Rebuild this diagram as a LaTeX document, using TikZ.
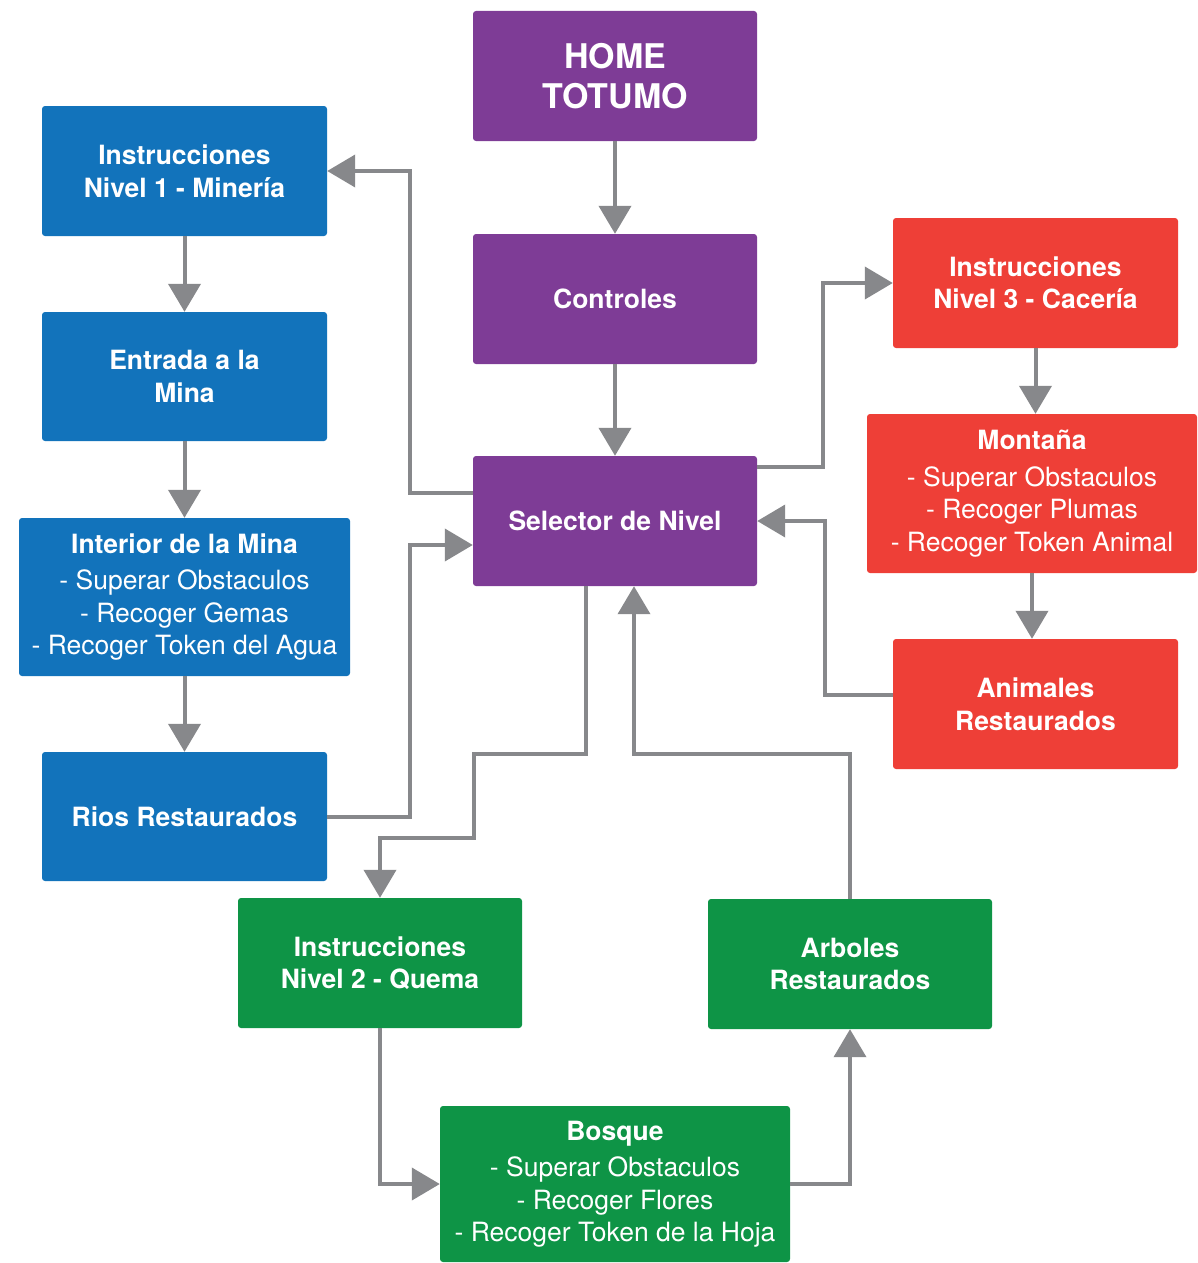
\documentclass[tikz,border=0pt]{standalone}
\usepackage{fontspec}
\setmainfont{TeX Gyre Heros}
\usetikzlibrary{arrows.meta,calc}
\definecolor{cpurple}{HTML}{7E3C96}
\definecolor{cblue}{HTML}{1273BB}
\definecolor{cred}{HTML}{EE3F37}
\definecolor{cgreen}{HTML}{0E9446}
\definecolor{cgray}{HTML}{87888B}
\begin{document}
\begin{tikzpicture}[x=1pt,y=-1pt,
  box/.style={rectangle, rounded corners=3pt, text=white, align=center, inner sep=0pt,
    font=\fontsize{26.5}{32.5}\selectfont},
  pbox/.style={box, fill=cpurple},
  bbox/.style={box, fill=cblue},
  rbox/.style={box, fill=cred},
  gbox/.style={box, fill=cgreen},
  conn/.style={draw=cgray, line width=4pt, -{Triangle[length=28pt,width=32pt]}, color=cgray}
]
\useasboundingbox (0,0) rectangle (1197,1263);

% purple
\node[pbox, minimum width=284pt, minimum height=130pt, font=\fontsize{34}{40}\selectfont\bfseries] (home) at (615,76) {HOME\\TOTUMO};
\node[pbox, minimum width=284pt, minimum height=130pt] (ctrl) at (615,299) {\bfseries Controles};
\node[pbox, minimum width=284pt, minimum height=130pt] (sel) at (615,521) {\bfseries Selector de Nivel};

% blue
\node[bbox, minimum width=285pt, minimum height=130pt] (i1) at (184.5,171) {\bfseries Instrucciones\\\bfseries Nivel 1 - Minería};
\node[bbox, minimum width=285pt, minimum height=129pt] (ent) at (184.5,376.5) {\bfseries Entrada a la\\\bfseries Mina};
\node[bbox, minimum width=331pt, minimum height=158pt] (int) at (184.5,597) {\bfseries Interior de la Mina\\[4pt]- Superar Obstaculos\\- Recoger Gemas\\- Recoger Token del Agua};
\node[bbox, minimum width=285pt, minimum height=129pt] (rios) at (184.5,816.5) {\bfseries Rios Restaurados};

% red
\node[rbox, minimum width=285pt, minimum height=130pt] (i3) at (1035.5,283) {\bfseries Instrucciones\\\bfseries Nivel 3 - Cacería};
\node[rbox, minimum width=330pt, minimum height=159pt] (mon) at (1032,493.5) {\bfseries Montaña\\[4pt]- Superar Obstaculos\\- Recoger Plumas\\- Recoger Token Animal};
\node[rbox, minimum width=285pt, minimum height=130pt] (ani) at (1035.5,704) {\bfseries Animales\\\bfseries Restaurados};

% green
\node[gbox, minimum width=284pt, minimum height=130pt] (i2) at (380,963) {\bfseries Instrucciones\\\bfseries Nivel 2 - Quema};
\node[gbox, minimum width=284pt, minimum height=130pt] (arb) at (850,964) {\bfseries Arboles\\\bfseries Restaurados};
\node[gbox, minimum width=350pt, minimum height=156pt] (bos) at (615,1184) {\bfseries Bosque\\[4pt]- Superar Obstaculos\\- Recoger Flores\\- Recoger Token de la Hoja};

% connectors
\draw[conn] (home.south) -- (ctrl.north);
\draw[conn] (ctrl.south) -- (sel.north);
\draw[conn] ([yshift=28pt]sel.west) -- ++(-63,0) |- (i1.east);
\draw[conn] (i1.south) -- (ent.north);
\draw[conn] (ent.south) -- (int.north);
\draw[conn] (int.south) -- (rios.north);
\draw[conn] (rios.east) -- ++(83,0) |- ([yshift=-24pt]sel.west);
\draw[conn] ([yshift=54pt]sel.east) -- ++(66,0) |- (i3.west);
\draw[conn] (i3.south) -- (i3.south |- mon.north);
\draw[conn] (mon.south) -- (mon.south |- ani.north);
\draw[conn] ([yshift=9pt]ani.west) -- ++(-68,0) |- (sel.east);
\draw[conn] ([xshift=-29pt]sel.south) -- ++(0,168) -- ++(-112,0) -- ++(0,84) -| (i2.north);
\draw[conn] (i2.south) |- (bos.west);
\draw[conn] (bos.east) -| (arb.south);
\draw[conn] (arb.north) -- ++(0,-145) -| ([xshift=19pt]sel.south);
\end{tikzpicture}
\end{document}
